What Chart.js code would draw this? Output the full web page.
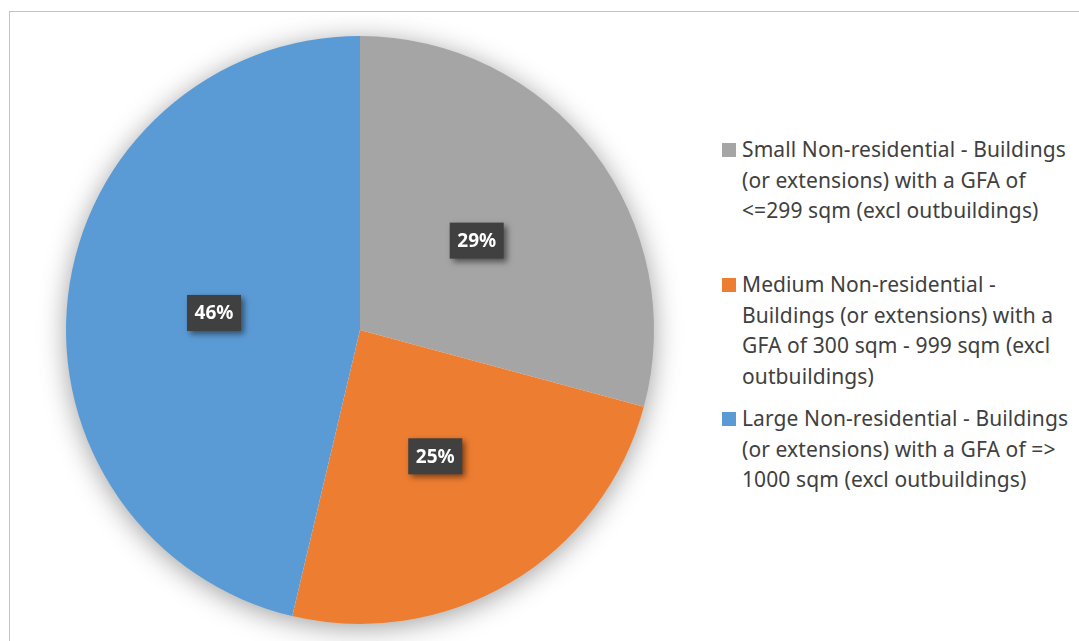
<!DOCTYPE html>
<html>
<head>
<meta charset="utf-8">
<script src="https://cdn.jsdelivr.net/npm/chart.js@4/dist/chart.umd.min.js"></script>
<style>
  html, body { margin: 0; padding: 0; background: #fff; overflow: hidden; }
  body { width: 1079px; height: 641px; position: relative; font-family: "Noto Sans", sans-serif; }
  #frame { position: absolute; left: 9px; top: 11px; width: 1200px; height: 800px; border: 1px solid #c3c3c3; box-sizing: border-box; }
  #pieWrap { position: absolute; left: 36px; top: 6px; width: 648px; height: 648px; }
  #legend { position: absolute; left: 0; top: 0; }
  .item { position: absolute; left: 742px; color: #404040; font-size: 21px; letter-spacing: 0.1px; line-height: 30.5px; white-space: nowrap; }
  .item .box { position: absolute; left: -20px; top: 9px; width: 14px; height: 14px; }
</style>
</head>
<body>
<div id="frame"></div>
<div id="pieWrap"><canvas id="pie"></canvas></div>
<div id="legend"></div>
<script>
// categories as they wrap in the legend
const categories = [
    ['Small Non-residential - Buildings', '(or extensions) with a GFA of', '<=299 sqm (excl outbuildings)'],
    ['Medium Non-residential -', 'Buildings (or extensions) with a', 'GFA of 300 sqm - 999 sqm (excl', 'outbuildings)'],
    ['Large Non-residential - Buildings', '(or extensions) with a GFA of =>', '1000 sqm (excl outbuildings)']
];
const shares = [29.2, 24.5, 46.3];
const sliceColors = ['#A5A5A5', '#ED7D31', '#5B9BD5'];
const legendTops = [134, 269, 403];

// soft shadow under the whole pie
const pieShadow = {
    id: 'pieShadow',
    beforeDatasetsDraw(chart) {
        const arc = chart.getDatasetMeta(0).data[0];
        if (!arc) return;
        const ctx = chart.ctx;
        ctx.save();
        ctx.shadowColor = 'rgba(0,0,0,0.4)';
        ctx.shadowBlur = 28;
        ctx.shadowOffsetY = 4;
        ctx.fillStyle = '#fff';
        ctx.beginPath();
        ctx.arc(arc.x, arc.y, arc.outerRadius - 1, 0, Math.PI * 2);
        ctx.fill();
        ctx.restore();
    }
};

// dark boxed percentage labels
const sliceLabels = {
    id: 'sliceLabels',
    afterDatasetsDraw(chart) {
        const ctx = chart.ctx;
        const data = chart.data.datasets[0].data;
        const total = data.reduce((a, b) => a + b, 0);
        ctx.save();
        ctx.font = 'bold 19px "Noto Sans"';
        ctx.textAlign = 'center';
        ctx.textBaseline = 'middle';
        chart.getDatasetMeta(0).data.forEach((arc, i) => {
            const pos = arc.tooltipPosition();
            const text = Math.round(data[i] / total * 100) + '%';
            const w = 54, h = 36;
            ctx.save();
            ctx.shadowColor = 'rgba(0,0,0,0.5)';
            ctx.shadowBlur = 6;
            ctx.shadowOffsetX = 3;
            ctx.shadowOffsetY = 3;
            ctx.fillStyle = '#404040';
            ctx.fillRect(pos.x - w / 2, pos.y - h / 2, w, h);
            ctx.restore();
            ctx.fillStyle = '#ffffff';
            ctx.fillText(text, pos.x, pos.y + 1);
        });
        ctx.restore();
    }
};

new Chart(document.getElementById('pie'), {
    type: 'pie',
    data: {
        labels: categories,
        datasets: [{
            data: shares,
            backgroundColor: sliceColors,
            borderWidth: 0
        }]
    },
    options: {
        responsive: true,
        maintainAspectRatio: false,
        animation: false,
        layout: { padding: 30 },
        plugins: {
            legend: { display: false },
            tooltip: { enabled: false }
        }
    },
    plugins: [pieShadow, sliceLabels]
});

// legend built from the same arrays
const legend = document.getElementById('legend');
categories.forEach((lines, i) => {
    const item = document.createElement('div');
    item.className = 'item';
    item.style.top = legendTops[i] + 'px';
    const box = document.createElement('span');
    box.className = 'box';
    box.style.background = sliceColors[i];
    item.appendChild(box);
    lines.forEach(line => {
        const d = document.createElement('div');
        d.textContent = line;
        item.appendChild(d);
    });
    legend.appendChild(item);
});
</script>
</body>
</html>
